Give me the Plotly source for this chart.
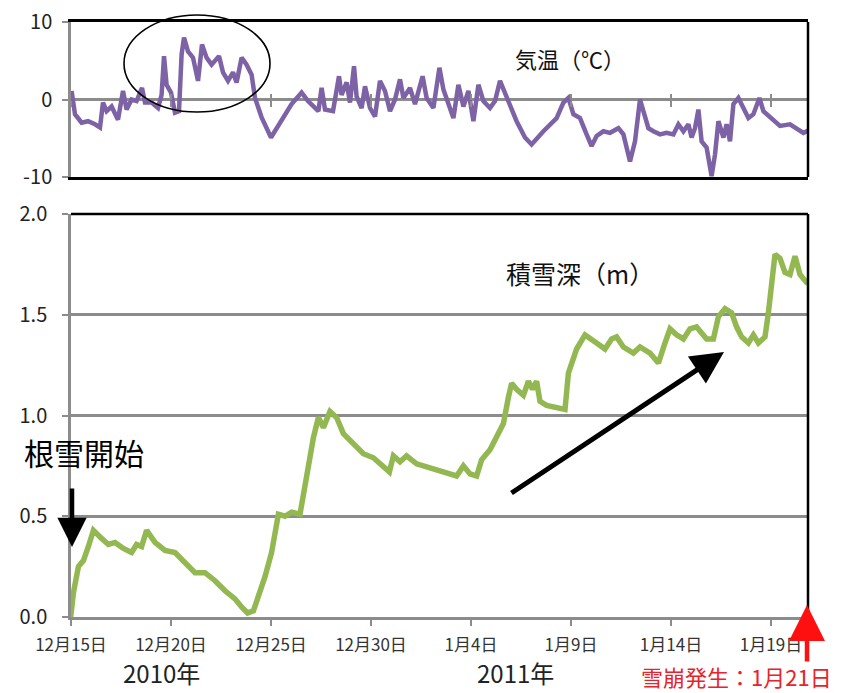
import plotly.graph_objects as go
import pandas as pd

# ---------------- data ----------------
BASE = "2010-12-15"

# air temperature (°C); time in days since 2010-12-15 00:00
temp_days = [0.03, 0.2, 0.53, 0.85, 1.2, 1.45, 1.6, 1.78, 2.03, 2.35, 2.6, 2.78, 3.03, 3.28,
             3.55, 3.7, 4.03, 4.35, 4.53, 4.65, 4.78, 5.0, 5.2, 5.4, 5.53, 5.65, 5.85, 6.1,
             6.35, 6.55, 6.78, 7.03, 7.4, 7.6, 7.85, 8.1, 8.28, 8.53, 8.78, 9.03, 9.2, 9.53,
             10.0, 10.53, 11.03, 11.53, 11.85, 12.37, 12.53, 12.7, 13.1, 13.4, 13.53, 13.78,
             13.95, 14.15, 14.28, 14.53, 14.7, 14.95, 15.2, 15.45, 15.7, 15.95, 16.2, 16.45,
             16.62, 16.95, 17.2, 17.58, 17.78, 18.12, 18.42, 18.62, 18.87, 19.12, 19.37,
             19.62, 19.87, 20.12, 20.37, 20.62, 20.95, 21.2, 21.45, 21.78, 22.28, 22.7,
             23.03, 23.62, 24.28, 24.62, 24.87, 25.12, 25.45, 25.78, 26.03, 26.28, 26.62,
             26.95, 27.37, 27.62, 27.78, 27.95, 28.2, 28.45, 28.62, 28.87, 29.12, 29.45,
             29.78, 30.12, 30.37, 30.62, 30.87, 31.03, 31.2, 31.37, 31.53, 31.78, 32.03,
             32.2, 32.37, 32.62, 32.78, 32.95, 33.12, 33.37, 33.62, 33.87, 34.12, 34.42,
             34.62, 34.95, 35.45, 35.95, 36.28, 36.62, 36.95, 37.28]
temp_vals = [1.1, -1.9, -3.0, -2.8, -3.2, -3.6, -0.4, -1.5, -0.9, -2.6, 1.1, -1.3, 0.0, -0.2,
             1.5, -0.4, -0.4, -1.1, 0.6, 5.6, 1.9, 0.9, -1.7, -1.5, 5.8, 8.0, 6.2, 5.4,
             2.4, 7.1, 5.4, 4.5, 5.6, 3.5, 2.4, 3.5, 2.2, 5.4, 4.5, 3.2, 0.2, -2.3,
             -4.9, -2.8, -0.6, 0.9, -0.2, -1.5, 1.5, -1.3, -1.5, 3.0, 0.6, 2.2,
             -0.4, 4.3, 0.4, -1.1, 1.7, -1.1, -2.2, 2.4, 1.1, -1.5, 0.0, 2.6,
             0.2, 1.5, -0.6, 3.0, 0.2, -1.1, 4.1, 1.3, -0.4, -2.4, 1.9,
             -0.9, 1.1, -2.8, 1.9, -0.2, -1.1, -0.2, 2.4, 0.2, -2.8, -4.9,
             -5.8, -4.1, -2.4, -0.4, 0.2, -1.9, -2.4, -4.5, -6.0, -4.7, -4.1,
             -4.3, -3.7, -4.5, -6.2, -8.0, -5.4, 0.0, -1.5, -3.7, -4.1, -4.5,
             -4.3, -4.5, -3.2, -4.1, -3.2, -4.9, -3.7, -1.3, -5.4, -6.2, -9.9,
             -7.1, -2.8, -4.9, -3.2, -5.4, -0.6, 0.2, -1.1, -2.4, -1.9, 0.2,
             -1.5, -2.2, -3.4, -3.2, -3.7, -4.3, -3.9, -3.0]

# snow depth (m)
snow_days = [-0.05, 0.12, 0.37, 0.62, 0.87, 1.12, 1.53, 1.87, 2.2, 2.62, 3.03, 3.28, 3.53,
             3.78, 4.2, 4.7, 5.2, 5.7, 6.2, 6.7, 7.2, 7.7, 8.2, 8.53, 8.83, 9.12, 9.37,
             9.7, 10.03, 10.37, 10.7, 11.03, 11.45, 11.62, 11.87, 12.12, 12.37, 12.62,
             12.95, 13.28, 13.62, 14.12, 14.62, 15.12, 15.62, 15.92, 16.12, 16.45, 16.78,
             17.28, 17.95, 18.62, 19.28, 19.62, 19.95, 20.28, 20.53, 20.95, 21.28, 21.62,
             21.87, 22.03, 22.28, 22.62, 22.87, 23.08, 23.28, 23.45, 23.78, 24.28, 24.7,
             24.87, 25.12, 25.28, 25.7, 25.95, 26.28, 26.7, 27.03, 27.28, 27.62, 28.12,
             28.45, 28.95, 29.37, 29.7, 29.95, 30.28, 30.62, 30.95, 31.28, 31.53, 31.78,
             32.12, 32.37, 32.7, 33.03, 33.28, 33.53, 33.87, 34.12, 34.37, 34.7, 34.87,
             35.03, 35.2, 35.45, 35.7, 35.95, 36.2, 36.45, 36.78, 37.03, 37.28]
snow_vals = [-0.03, 0.12, 0.25, 0.28, 0.35, 0.43, 0.39, 0.36, 0.37, 0.34, 0.32, 0.36, 0.35,
             0.43, 0.37, 0.33, 0.32, 0.27, 0.22, 0.22, 0.18, 0.13, 0.09, 0.05, 0.02, 0.03, 0.10,
             0.20, 0.32, 0.51, 0.50, 0.52, 0.51, 0.61, 0.76, 0.89, 0.99, 0.94,
             1.02, 0.99, 0.91, 0.86, 0.81, 0.79, 0.75, 0.72, 0.80, 0.77, 0.80,
             0.76, 0.74, 0.72, 0.70, 0.75, 0.71, 0.70, 0.78, 0.83, 0.89, 0.96,
             1.09, 1.16, 1.13, 1.10, 1.17, 1.13, 1.17, 1.07, 1.05, 1.04, 1.03,
             1.21, 1.29, 1.33, 1.40, 1.38, 1.36, 1.33, 1.38, 1.39, 1.34, 1.31,
             1.34, 1.31, 1.26, 1.36, 1.43, 1.40, 1.38, 1.43, 1.44, 1.41, 1.38,
             1.38, 1.49, 1.53, 1.51, 1.44, 1.39, 1.36, 1.40, 1.36, 1.39, 1.51,
             1.66, 1.80, 1.78, 1.71, 1.70, 1.79, 1.70, 1.66, 1.65, 1.66]

tick_dates = ["2010-12-15", "2010-12-20", "2010-12-25", "2010-12-30",
              "2011-01-04", "2011-01-09", "2011-01-14", "2011-01-19"]
tick_text = ["12月15日", "12月20日", "12月25日", "12月30日",
             "1月4日", "1月9日", "1月14日", "1月19日"]
temp_ticks = [-10, 0, 10]
temp_tick_text = ["-10", "0", "10"]
snow_ticks = [0.0, 0.5, 1.0, 1.5, 2.0]
snow_tick_text = ["0.0", "0.5", "1.0", "1.5", "2.0"]

# ---------------- build ----------------
W, H = 849, 693
FONT = "Noto Sans CJK JP"
PURPLE = "#7d62a6"
GREEN = "#93b852"
GRAY = "#8c8c8c"


def px(x):
    return x / W


def py(y):
    return 1 - y / H


base = pd.Timestamp(BASE)
t_x = [base + pd.Timedelta(days=d) for d in temp_days]
s_x = [base + pd.Timedelta(days=d) for d in snow_days]
x_range = [base.strftime("%Y-%m-%d %H:%M"),
           (base + pd.Timedelta(days=36.85)).strftime("%Y-%m-%d %H:%M")]
xdom = [px(71), px(808)]
top_dom = [py(177), py(22)]
bot_dom = [py(617), py(214)]

fig = go.Figure()
fig.add_trace(go.Scatter(x=t_x, y=temp_vals, mode="lines", xaxis="x", yaxis="y",
                         line=dict(color=PURPLE, width=4.5), showlegend=False))
fig.add_trace(go.Scatter(x=s_x, y=snow_vals, mode="lines", xaxis="x2", yaxis="y2",
                         line=dict(color=GREEN, width=5.5), showlegend=False))
# empty traces so the zero-line tick axes are drawn
fig.add_trace(go.Scatter(x=[], y=[], xaxis="x3", yaxis="y", showlegend=False))
fig.add_trace(go.Scatter(x=[], y=[], xaxis="x4", yaxis="y", showlegend=False))

common_x = dict(type="date", range=x_range, domain=xdom, tickmode="array",
                tickvals=tick_dates, showgrid=False, zeroline=False, automargin=False)

fig.update_layout(
    width=W, height=H,
    margin=dict(l=0, r=0, t=0, b=0, autoexpand=False),
    paper_bgcolor="white", plot_bgcolor="white",
    font=dict(family=FONT, color="#222"),
    xaxis=dict(**common_x, anchor="y", showticklabels=False, ticks="",
               showline=True, linecolor="black", linewidth=2.5, mirror=True),
    xaxis2=dict(**common_x, anchor="y2", ticktext=tick_text, ticks="outside",
                ticklen=6, tickwidth=2, tickcolor=GRAY, ticklabelstandoff=5,
                showline=True, linecolor=GRAY, linewidth=2.5,
                tickfont=dict(size=17, color="#333", family=FONT)),
    xaxis3=dict(**common_x, overlaying="x", anchor="free", position=py(100),
                showticklabels=False, ticks="outside", ticklen=6, tickwidth=2,
                tickcolor=GRAY, showline=False),
    xaxis4=dict(**common_x, overlaying="x", anchor="free", position=py(100),
                showticklabels=False, ticks="inside", ticklen=6, tickwidth=2,
                tickcolor=GRAY, showline=False),
    yaxis=dict(domain=top_dom, range=[-10, 10], tickmode="array", tickvals=temp_ticks,
               ticktext=temp_tick_text, automargin=False, ticklabelstandoff=6,
               anchor="x", showgrid=False, zeroline=True, zerolinecolor=GRAY,
               zerolinewidth=2.5, showline=True, linecolor=GRAY, linewidth=2.5,
               ticks="outside", ticklen=6, tickwidth=2, tickcolor=GRAY,
               tickfont=dict(size=20, color="#222", family=FONT)),
    yaxis2=dict(domain=bot_dom, range=[0, 2.0], tickmode="array", tickvals=snow_ticks,
                ticktext=snow_tick_text, automargin=False, anchor="x2", ticklabelstandoff=11,
                showgrid=True, gridcolor=GRAY,
                gridwidth=2.5, zeroline=False, showline=True, linecolor=GRAY,
                linewidth=2.5, ticks="outside", ticklen=6, tickwidth=2, tickcolor=GRAY,
                tickfont=dict(size=20, color="#222", family=FONT)),
)

shapes = [
    dict(type="line", xref="x domain", yref="y domain", x0=1, x1=1, y0=0, y1=1,
         line=dict(color="black", width=2.5)),
    dict(type="line", xref="x2 domain", yref="y2 domain", x0=0, x1=1, y0=1, y1=1,
         line=dict(color="black", width=2.5)),
    dict(type="line", xref="x2 domain", yref="y2 domain", x0=1, x1=1, y0=0, y1=1,
         line=dict(color="black", width=2.5)),
    dict(type="circle", xref="paper", yref="paper", x0=px(124), x1=px(270),
         y0=py(112), y1=py(15), line=dict(color="black", width=1.6)),
]
fig.update_layout(shapes=shapes)

ann = [
    dict(text="気温（℃）", x=px(570), y=py(58), font=dict(size=22, color="#111")),
    dict(text="積雪深（m）", x=px(580), y=py(273), font=dict(size=25, color="#111")),
    dict(text="根雪開始", x=px(84), y=py(452), font=dict(size=30, color="#000")),
    dict(text="2010年", x=px(161), y=py(672), font=dict(size=24, color="#222")),
    dict(text="2011年", x=px(515), y=py(672), font=dict(size=24, color="#222")),
    dict(text="雪崩発生：1月21日", x=px(736), y=py(676), font=dict(size=22, color="#e8232a")),
]
for a in ann:
    a.update(xref="paper", yref="paper", showarrow=False, xanchor="center", yanchor="middle")

arrows = [
    # black down arrow (snow cover start)
    dict(x=px(72), y=py(547), ax=0, ay=-60, arrowcolor="black", arrowwidth=4.5, arrowsize=1.3),
    # black diagonal arrow
    dict(x=px(724), y=py(352), ax=-214, ay=142, arrowcolor="black", arrowwidth=5, arrowsize=1.3),
    # red up arrow (avalanche)
    dict(x=px(807), y=py(605), ax=0, ay=58, arrowcolor="#ff1010", arrowwidth=4.5, arrowsize=1.6),
]
for a in arrows:
    a.update(xref="paper", yref="paper", axref="pixel", ayref="pixel", text="",
             showarrow=True, arrowhead=2)

fig.update_layout(annotations=ann + arrows)

fig.write_html("out.html")
